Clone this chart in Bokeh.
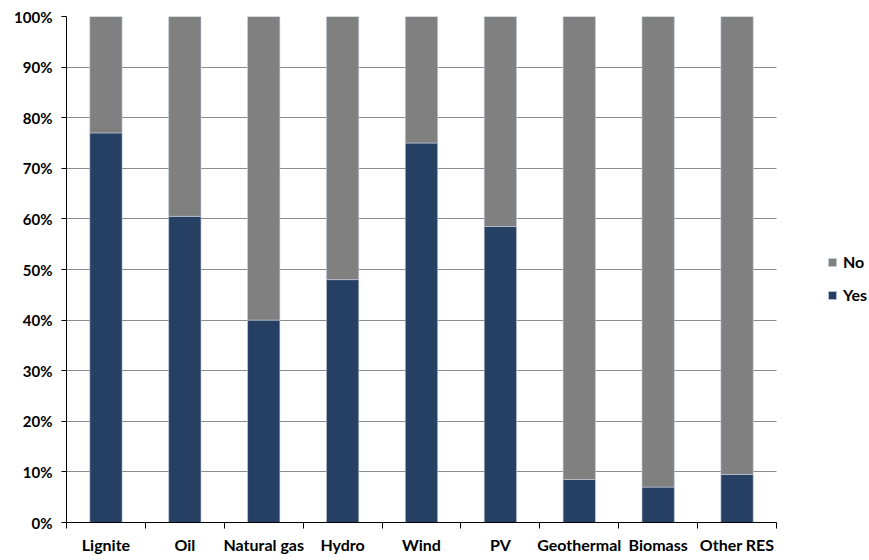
from bokeh.plotting import figure
from bokeh.models import (ColumnDataSource, FixedTicker, NumeralTickFormatter,
                          Legend, LegendItem, Range1d)
from bokeh.embed import file_html
from bokeh.resources import INLINE

categories = ["Lignite", "Oil", "Natural gas", "Hydro", "Wind", "PV",
              "Geothermal", "Biomass", "Other RES"]
yes_share = [0.77, 0.605, 0.40, 0.48, 0.75, 0.585, 0.085, 0.07, 0.095]
no_share = [1 - v for v in yes_share]
y_ticks = [0.0, 0.1, 0.2, 0.3, 0.4, 0.5, 0.6, 0.7, 0.8, 0.9, 1.0]

YES_COLOR = "#264063"
NO_COLOR = "#808080"
FONT = "Lato"

n = len(categories)
centers = [i + 0.5 for i in range(n)]
bounds = [float(i) for i in range(n + 1)]

W, H = 869, 556
LEFT, TOP, BOTTOM = 66, 16, 31
PLOT_W = 710  # pixel width of the category area; legend sits to its right
frame_w = W - LEFT
x_end = n * frame_w / PLOT_W

src = ColumnDataSource(dict(x=centers, Yes=yes_share, No=no_share))

p = figure(width=W, height=H, output_backend="svg", toolbar_location=None,
           x_range=Range1d(0, x_end), y_range=Range1d(0, 1),
           min_border_left=LEFT, min_border_top=TOP, min_border_right=0,
           min_border_bottom=BOTTOM)
p.outline_line_color = None

rs = p.vbar_stack(["Yes", "No"], x="x", width=0.41, source=src,
                  color=[YES_COLOR, NO_COLOR], line_color="#c5cfdc", line_width=0.6)

# x axis: labels at category centers, ticks at category boundaries
xa = p.xaxis[0]
xa.bounds = (0, n)
xa.ticker = FixedTicker(ticks=centers, minor_ticks=bounds)
xa.major_label_overrides = {c: s for c, s in zip(centers, categories)}
xa.major_tick_out = 0
xa.major_tick_in = 0
xa.minor_tick_out = 6
xa.minor_tick_in = 0
xa.minor_tick_line_color = "black"
xa.axis_line_color = "black"
xa.major_label_standoff = 6
xa.major_label_text_font = FONT
xa.major_label_text_font_style = "bold"
xa.major_label_text_font_size = "16px"
xa.major_label_text_color = "black"

ya = p.yaxis[0]
ya.ticker = FixedTicker(ticks=y_ticks)
ya.formatter = NumeralTickFormatter(format="0%")
ya.major_tick_out = 5
ya.major_tick_in = 0
ya.minor_tick_out = 0
ya.minor_tick_in = 0
ya.axis_line_color = "black"
ya.major_tick_line_color = "black"
ya.major_label_standoff = 9
ya.major_label_text_font = FONT
ya.major_label_text_font_style = "bold"
ya.major_label_text_font_size = "15px"
ya.major_label_text_color = "black"

p.xgrid.visible = False
p.ygrid.grid_line_color = "#8c8c8c"
p.ygrid.grid_line_width = 1
p.ygrid.cross_bounds = (0, n)
p.ygrid.level = "underlay"

legend = Legend(items=[LegendItem(label="No", renderers=[rs[1]]),
                       LegendItem(label="Yes", renderers=[rs[0]])],
                location=(761, 218), orientation="vertical",
                glyph_width=10, glyph_height=10, label_standoff=6,
                spacing=14, padding=0, margin=0,
                border_line_color=None, background_fill_alpha=0,
                label_text_font=FONT, label_text_font_style="bold",
                label_text_font_size="16px", label_text_color="black")
p.add_layout(legend, "center")

open("out.html", "w").write(file_html(p, INLINE))
